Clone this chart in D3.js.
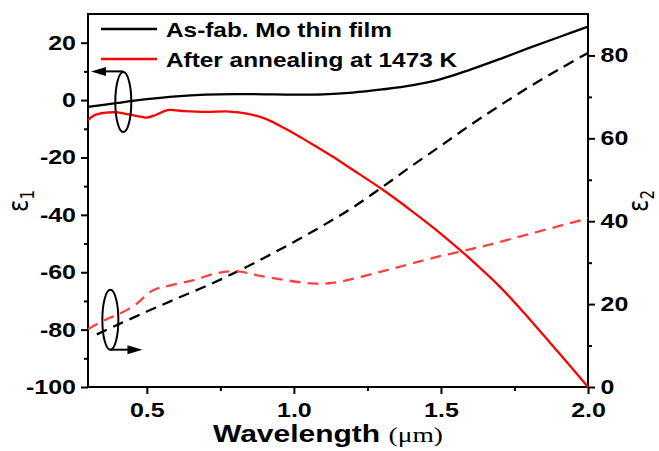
<!DOCTYPE html>
<html>
<head>
<meta charset="utf-8">
<script src="https://cdn.jsdelivr.net/npm/d3@7"></script>
<style>
body { margin: 0; background: #fff; }
text { font-family: "Liberation Sans", Arial, sans-serif; fill: #000; }
.tick-lbl { font-size: 20px; font-weight: bold; }
</style>
</head>
<body>
<div id="chart"></div>
<script>
// ---- data ----
// as-fab. film, eps1 (solid black, left axis)
var asFabE1Wl  = [0.3, 0.4, 0.5, 0.6, 0.7, 0.8, 0.9, 1.0, 1.1, 1.2, 1.3, 1.4, 1.5, 1.6, 1.7, 1.8, 1.9, 2.0];
var asFabE1    = [-2.4, -1.0, 0.3, 1.3, 1.9, 2.1, 2.0, 1.9, 2.0, 2.6, 3.7, 5.1, 7.3, 10.6, 14.3, 18.2, 21.9, 25.6];
// annealed film, eps1 (solid red, left axis)
var annE1Wl    = [0.3, 0.32, 0.36, 0.4, 0.44, 0.48, 0.5, 0.53, 0.57, 0.62, 0.7, 0.78, 0.84, 0.9, 0.97, 1.05, 1.13, 1.2, 1.3, 1.4, 1.5, 1.6, 1.7, 1.8, 1.9, 2.0];
var annE1      = [-7.0, -5.4, -4.4, -4.3, -5.0, -5.8, -6.1, -5.2, -3.5, -3.8, -4.1, -4.0, -4.7, -6.4, -9.9, -14.6, -19.6, -24.3, -31.1, -38.6, -46.6, -55.4, -65.0, -76.2, -88.0, -100];
// as-fab. film, eps2 (dashed black, right axis)
var asFabE2Wl  = [0.33, 0.4, 0.5, 0.6, 0.7, 0.8, 0.9, 1.0, 1.1, 1.2, 1.3, 1.4, 1.5, 1.6, 1.7, 1.8, 1.9, 2.0];
var asFabE2    = [12.7, 15.0, 18.2, 21.3, 24.3, 27.6, 31.2, 35.0, 39.0, 43.3, 48.2, 53.3, 58.2, 63.2, 67.9, 72.4, 76.6, 80.6];
// annealed film, eps2 (dashed red, right axis)
var annE2Wl    = [0.3, 0.37, 0.4, 0.46, 0.52, 0.58, 0.66, 0.74, 0.81, 0.88, 0.97, 1.06, 1.13, 1.3, 1.47, 1.64, 1.81, 2.0];
var annE2      = [14.0, 16.6, 17.4, 19.8, 23.3, 24.5, 25.8, 27.5, 27.9, 26.9, 25.8, 25.0, 25.1, 27.9, 31.1, 33.9, 37.1, 40.7];

var xTicks     = [0.5, 1.0, 1.5, 2.0];
var xMinor     = [0.75, 1.25, 1.75];
var y1Ticks    = [-100, -80, -60, -40, -20, 0, 20];
var y1Minor    = [-90, -70, -50, -30, -10, 10];
var y2Ticks    = [0, 20, 40, 60, 80];
var y2Minor    = [10, 30, 50, 70];
var legendLabels = ["As-fab. Mo thin film", "After annealing at 1473 K"];

// the original picture is stretched horizontally
var SX = 1.25;

var width = 659, height = 451;
var margin = {top: 14, right: 71, bottom: 64, left: 88};
var plotW = width - margin.left - margin.right;
var plotH = height - margin.top - margin.bottom;

var svg = d3.select("#chart").append("svg")
	.attr("width", width)
	.attr("height", height);

var g = svg.append("g")
	.attr("transform", "translate(" + margin.left + "," + margin.top + ")");

var x = d3.scaleLinear().domain([0.3, 2.0]).range([0, plotW]);
var y1 = d3.scaleLinear().domain([-100, 30]).range([plotH, 0]);
var y2 = d3.scaleLinear().domain([0, 90]).range([plotH, 0]);

///////////////////////////// axes /////////////////////////////

function styleAxis(sel) {
	sel.select(".domain").remove();
	sel.selectAll("line").attr("stroke", "#000").attr("stroke-width", 2);
	sel.selectAll("text").attr("class", "tick-lbl");
}

// plain hyphen as minus sign, like the original
var fmtInt = function(d) { return String(d); };
var fmt1 = d3.format(".1f");

var xAxis = g.append("g")
	.attr("transform", "translate(0," + plotH + ")")
	.call(d3.axisBottom(x).tickValues(xTicks).tickFormat(fmt1).tickSize(7).tickPadding(9));
styleAxis(xAxis);
xAxis.selectAll("text").attr("transform", "scale(" + SX + ",1)");

g.append("g")
	.attr("transform", "translate(0," + plotH + ")")
	.call(d3.axisBottom(x).tickValues(xMinor).tickFormat("").tickSize(4))
	.call(styleAxis);

var yAxisL = g.append("g")
	.call(d3.axisLeft(y1).tickValues(y1Ticks).tickFormat(fmtInt).tickSize(7).tickPadding(5));
styleAxis(yAxisL);
yAxisL.selectAll("text").attr("x", -12 / SX).attr("transform", "scale(" + SX + ",1)");

g.append("g")
	.call(d3.axisLeft(y1).tickValues(y1Minor).tickFormat("").tickSize(4))
	.call(styleAxis);

var yAxisR = g.append("g")
	.attr("transform", "translate(" + plotW + ",0)")
	.call(d3.axisRight(y2).tickValues(y2Ticks).tickFormat(fmtInt).tickSize(7).tickPadding(5));
styleAxis(yAxisR);
yAxisR.selectAll("text").attr("x", 12.5 / SX).attr("transform", "scale(" + SX + ",1)");

g.append("g")
	.attr("transform", "translate(" + plotW + ",0)")
	.call(d3.axisRight(y2).tickValues(y2Minor).tickFormat("").tickSize(4))
	.call(styleAxis);

// frame
g.append("rect")
	.attr("width", plotW)
	.attr("height", plotH)
	.attr("fill", "none")
	.attr("stroke", "#000")
	.attr("stroke-width", 2);

///////////////////////////// lines /////////////////////////////

function zip(xs, ys) { return xs.map(function(d, i) { return [d, ys[i]]; }); }

var lineL = d3.line().x(function(d) { return x(d[0]); }).y(function(d) { return y1(d[1]); }).curve(d3.curveCatmullRom.alpha(0.5));
var lineR = d3.line().x(function(d) { return x(d[0]); }).y(function(d) { return y2(d[1]); }).curve(d3.curveCatmullRom.alpha(0.5));

g.append("path").datum(zip(asFabE2Wl, asFabE2))
	.attr("d", lineR).attr("fill", "none")
	.attr("stroke", "#000").attr("stroke-width", 2.3).attr("stroke-dasharray", "11,7");

g.append("path").datum(zip(annE2Wl, annE2))
	.attr("d", lineR).attr("fill", "none")
	.attr("stroke", "#ff4040").attr("stroke-width", 2.3).attr("stroke-dasharray", "11,7");

g.append("path").datum(zip(asFabE1Wl, asFabE1))
	.attr("d", lineL).attr("fill", "none")
	.attr("stroke", "#000").attr("stroke-width", 2.3);

g.append("path").datum(zip(annE1Wl, annE1))
	.attr("d", lineL).attr("fill", "none")
	.attr("stroke", "#ff0000").attr("stroke-width", 2.3);

///////////////////////////// legend /////////////////////////////

var legendColors = ["#000", "#ff0000"];
var leg = svg.append("g");
legendLabels.forEach(function(lbl, i) {
	var yy = 29 + i * 30;
	leg.append("line")
		.attr("x1", 101).attr("x2", 157)
		.attr("y1", yy).attr("y2", yy)
		.attr("stroke", legendColors[i]).attr("stroke-width", 2.3);
	leg.append("text")
		.attr("transform", "translate(166," + (yy + 8) + ") scale(" + SX + ",1)")
		.style("font-size", "19.5px")
		.style("font-weight", "bold")
		.text(lbl);
});

///////////////////////////// annotations /////////////////////////////

var ann = g.append("g").attr("stroke", "#000").attr("stroke-width", 2).attr("fill", "none");

// eps1 marker -> left axis
ann.append("ellipse").attr("cx", x(0.42)).attr("cy", y1(-0.7)).attr("rx", 8).attr("ry", 30);
ann.append("line").attr("x1", x(0.42)).attr("x2", 14).attr("y1", y1(10)).attr("y2", y1(10));
g.append("path")
	.attr("d", "M" + 3 + "," + y1(10) + "l15,-4.5l0,9z")
	.attr("fill", "#000");

// eps2 marker -> right axis
ann.append("ellipse").attr("cx", x(0.376)).attr("cy", y2(16.2)).attr("rx", 8).attr("ry", 30);
ann.append("line").attr("x1", x(0.376)).attr("x2", x(0.44)).attr("y1", y2(9)).attr("y2", y2(9));
g.append("path")
	.attr("d", "M" + x(0.485) + "," + y2(9) + "l-15,-4.5l0,9z")
	.attr("fill", "#000");

///////////////////////////// axis titles /////////////////////////////

var xt = svg.append("text")
	.attr("transform", "translate(213,442) scale(" + SX + ",1)");
xt.append("tspan").style("font-size", "24px").style("font-weight", "bold").text("Wavelength ");
xt.append("tspan").style("font-size", "22px")
	.style("font-family", "'Liberation Serif', 'Times New Roman', serif").text("(\u03bcm)");

function epsLabel(cx, cy, sub) {
	var t = svg.append("text")
		.attr("transform", "translate(" + cx + "," + cy + ") scale(" + SX + ",1) rotate(-90)")
		.attr("text-anchor", "middle")
		.style("font-size", "23px")
		.style("font-family", "'DejaVu Sans', sans-serif");
	t.append("tspan").text("\u03b5");
	t.append("tspan").attr("dy", 5).style("font-size", "15px").text(sub);
}
epsLabel(28, 201, "1");
epsLabel(648, 201, "2");
</script>
</body>
</html>
